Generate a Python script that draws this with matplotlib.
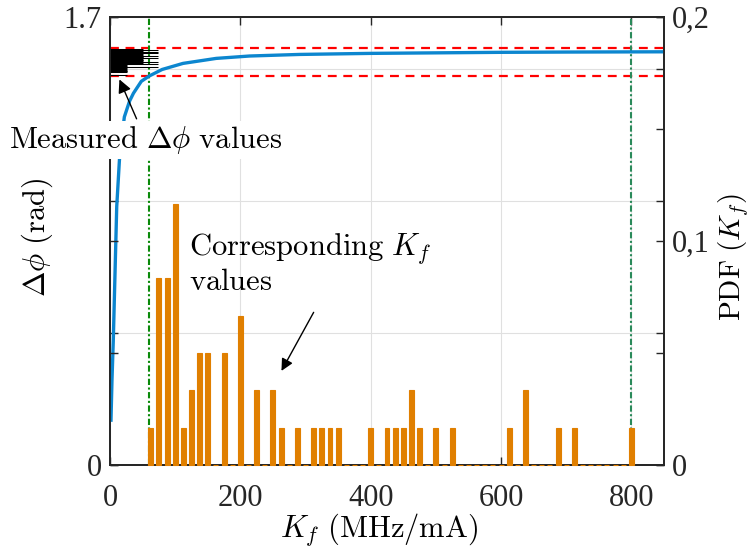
import numpy as np
import matplotlib
matplotlib.use('Agg')
import matplotlib.pyplot as plt

plt.rcParams['mathtext.fontset'] = 'cm'
plt.rcParams['font.family'] = ['Liberation Serif', 'DejaVu Serif']

# blue curve: delta phi vs Kf
kf_curve = [1.5, 3, 5, 7.7, 10.3, 15, 22, 30, 36, 48, 60, 80, 112, 163, 214, 291, 400, 500, 600, 700, 850]
dphi_curve = [0.17, 0.32, 0.47, 0.73, 0.98, 1.18, 1.32, 1.38, 1.41, 1.455, 1.475, 1.50, 1.523, 1.542,
              1.551, 1.557, 1.561, 1.563, 1.565, 1.566, 1.567]

# measured delta phi values (black lines at the left)
dphi_meas = [1.576, 1.573, 1.570, 1.567, 1.564, 1.561, 1.558, 1.555, 1.552, 1.549, 1.546, 1.543,
             1.540, 1.537, 1.534, 1.531, 1.528, 1.524, 1.520, 1.517, 1.514, 1.511, 1.508, 1.505,
             1.502, 1.499, 1.496, 1.493, 1.490, 1.478]
len_meas = [51, 74, 51, 74, 51, 74, 51, 51, 74, 51, 51, 74, 51, 51, 51, 51, 74, 51, 74, 26, 26,
            74, 26, 26, 26, 26, 26, 26, 26, 26]

# histogram of corresponding Kf values
bin_centers = np.arange(62.5, 812.5, 12.5)
counts = [1, 5, 5, 7, 1, 2, 3, 3, 0, 3, 0, 4, 0, 2, 0, 2, 1, 0, 1, 0,
          1, 1, 1, 1, 0, 0, 0, 1, 0, 1, 1, 1, 2, 1, 0, 1, 0, 1, 0, 0,
          0, 0, 0, 0, 1, 0, 2, 0, 0, 0, 1, 0, 1, 0, 0, 0, 0, 0, 0, 1]
n_meas = 60
pdf = np.array(counts) / n_meas

kf_lo, kf_hi = 60, 800
dphi_lo, dphi_hi = 1.475, 1.580

fig = plt.figure(figsize=(7.53, 5.52), dpi=100)
ax1 = fig.add_axes([0.1461, 0.1576, 0.7357, 0.8121])
ax2 = ax1.twinx()

ax1.plot(kf_curve, dphi_curve, color='#0C86CF', lw=2.4, zorder=3)
ax1.hlines(dphi_meas, 0, len_meas, colors='k', lw=0.75, zorder=3)
ax1.axhline(dphi_hi, color='r', ls='--', lw=1.6, dashes=(4, 3), zorder=2)
ax1.axhline(dphi_lo, color='r', ls='--', lw=1.6, dashes=(4, 3), zorder=2)
ax1.axvline(kf_lo, color='#0a8a0a', lw=1.5, dashes=(3, 1.2, 1, 1.2), zorder=2)
ax1.axvline(kf_hi, color='#2a8a5a', lw=1.5, dashes=(3, 1.2, 1, 1.2), zorder=2)

bars = ax2.bar(bin_centers, pdf, width=7.6, color='#E07F00', edgecolor='#E07F00', lw=0.8, zorder=3)
for b in bars:
    b.set_clip_on(False)

ax1.set_xlim(0, 850)
ax1.set_ylim(0, 1.7)
ax2.set_ylim(0, 0.2)

ax1.set_xticks([0, 200, 400, 600, 800])
ax1.set_yticks([0, 0.5, 1, 1.5, 1.7])
ax1.set_yticklabels(['0', '', '', '', '1.7'])
ax2.set_yticks([0, 0.05, 0.1, 0.15, 0.2])
ax2.set_yticklabels(['0', '', '0,1', '', '0,2'])

ax1.grid(True, color='#e0e0e0', lw=0.8)
ax1.set_axisbelow(True)

ax1.tick_params(axis='x', direction='in', top=True, bottom=True, length=6, width=1,
                labelsize=22, pad=14, colors='#262626')
ax1.tick_params(axis='y', direction='in', left=True, right=True, labelleft=True, labelright=False,
                length=6, width=1, labelsize=22, pad=6, colors='#262626')
ax2.tick_params(axis='y', direction='in', left=True, right=True, labelleft=False, labelright=True,
                length=6, width=1, labelsize=22, pad=6, colors='#262626')
for ax in (ax1, ax2):
    for s in ax.spines.values():
        s.set_linewidth(1.3)
        s.set_color('#262626')

fig.text(0.504, 0.041, r'$K_f\ (\mathrm{MHz/mA})$', ha='center', va='center', fontsize=22)
fig.text(0.050, 0.570, r'$\Delta\phi\ (\mathrm{rad})$', ha='center', va='center', rotation=90, fontsize=22)
fig.text(0.974, 0.535, r'$\mathrm{PDF}\ (K_f)$', ha='center', va='center', rotation=90, fontsize=21)

# annotations
ax2.annotate(r'$\mathrm{Measured}\ \Delta\phi\ \mathrm{values}$', xy=(12.7, 1.472), xycoords=ax1.transData,
             xytext=(55, 1.232), textcoords=ax1.transData, ha='center', va='center', fontsize=22,
             bbox=dict(fc='white', ec='none', pad=2),
             arrowprops=dict(arrowstyle='-|>', color='k', lw=1.0, mutation_scale=20), zorder=5)

ax2.text(121, 0.1044, '$\\mathrm{Corresponding}\\ K_f$\n$\\mathrm{values}$', ha='left', va='top',
         fontsize=22, linespacing=1.1, zorder=5)
ax2.annotate('', xy=(261, 0.0409), xytext=(314.5, 0.0692),
             arrowprops=dict(arrowstyle='-|>', color='k', lw=1.0, mutation_scale=18), zorder=5)

fig.savefig('out.png', dpi=100)
